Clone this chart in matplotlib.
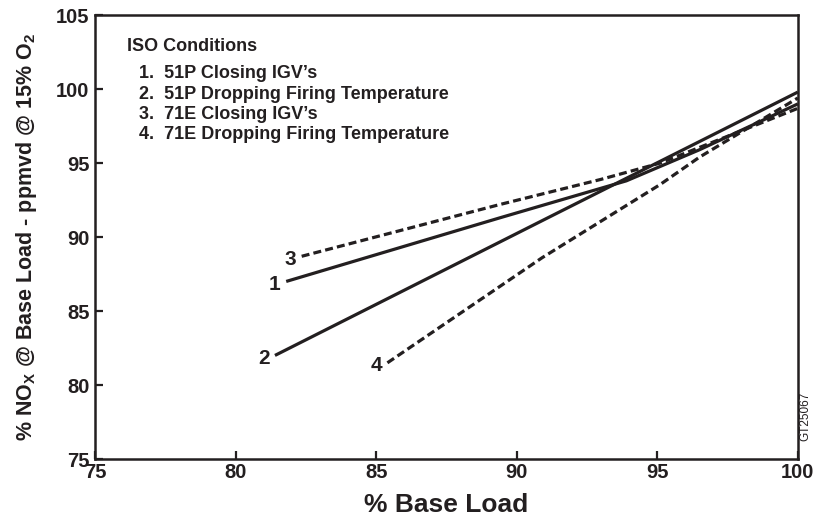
import matplotlib
matplotlib.use("Agg")
from matplotlib import pyplot as plt

plt.rcParams['font.family'] = ['Liberation Sans', 'DejaVu Sans']
plt.rcParams['mathtext.fontset'] = 'custom'
plt.rcParams['mathtext.rm'] = 'Liberation Sans:bold'
plt.rcParams['mathtext.it'] = 'Liberation Sans:bold'
plt.rcParams['mathtext.bf'] = 'Liberation Sans:bold'

ink = '#231f20'

# (% base load, % NOx of base load value)
load_1 = [81.8, 89.4, 93.9, 96.5, 100.0]
nox_1 = [87.0, 91.3, 93.8, 95.9, 99.0]
load_2 = [81.4, 91.0, 100.0]
nox_2 = [82.0, 91.2, 99.8]
load_3 = [82.35, 89.4, 93.0, 95.1, 100.0]
nox_3 = [88.7, 92.2, 93.9, 95.0, 98.7]
load_4 = [85.4, 90.9, 95.1, 96.5, 100.0]
nox_4 = [81.5, 88.6, 93.55, 95.4, 99.4]

line_names = ['1', '2', '3', '4']
line_dashed = [False, False, True, True]

legend_title = 'ISO Conditions'
legend_items = ['1.  51P Closing IGV\u2019s',
                '2.  51P Dropping Firing Temperature',
                '3.  71E Closing IGV\u2019s',
                '4.  71E Dropping Firing Temperature']

xticks = [75, 80, 85, 90, 95, 100]
yticks = [75, 80, 85, 90, 95, 100, 105]

fig = plt.figure(figsize=(8.15, 5.21), dpi=100)
ax = fig.add_axes([0.1166, 0.119, 0.8624, 0.852])

loads = [load_1, load_2, load_3, load_4]
noxs = [nox_1, nox_2, nox_3, nox_4]
for name, xs, ys, dashed in zip(line_names, loads, noxs, line_dashed):
    if dashed:
        ax.plot(xs, ys, color=ink, lw=2.3, linestyle=(0, (2.5, 1.3)),
                solid_capstyle='butt', dash_capstyle='butt')
    else:
        ax.plot(xs, ys, color=ink, lw=2.3, solid_capstyle='butt')
    # number label just left of the start of each line
    ax.annotate(name, (xs[0], ys[0]), xytext=(-4, -2), textcoords='offset points',
                ha='right', va='center', fontsize=15, fontweight='bold', color=ink)

ax.set_xlim(75, 100)
ax.set_ylim(75, 105)
ax.set_xticks(xticks)
ax.set_yticks(yticks)
ax.tick_params(direction='in', length=6, width=1.6, colors=ink, labelsize=14.5)
ax.tick_params(axis='x', pad=3)
ax.tick_params(axis='y', pad=4)
for lab in ax.get_xticklabels() + ax.get_yticklabels():
    lab.set_fontweight('bold')
for sp in ax.spines.values():
    sp.set_linewidth(1.8)
    sp.set_color(ink)

ax.set_xlabel('% Base Load', fontsize=19, fontweight='bold', color=ink, labelpad=8)
ax.set_ylabel('% NO$_\\mathregular{X}$ @ Base Load - ppmvd @ 15% O$_\\mathregular{2}$',
              fontsize=15.5, fontweight='bold', color=ink, labelpad=12)

ax.text(0.046, 0.93, legend_title, transform=ax.transAxes, fontsize=13,
        fontweight='bold', color=ink, va='center')
for i, item in enumerate(legend_items):
    ax.text(0.063, 0.868 - i * 0.046, item, transform=ax.transAxes, fontsize=13,
            fontweight='bold', color=ink, va='center')

fig.text(0.988, 0.2, 'GT25067', rotation=90, fontsize=8.5, color=ink,
         ha='center', va='center')

fig.savefig('out.png', dpi=100)
